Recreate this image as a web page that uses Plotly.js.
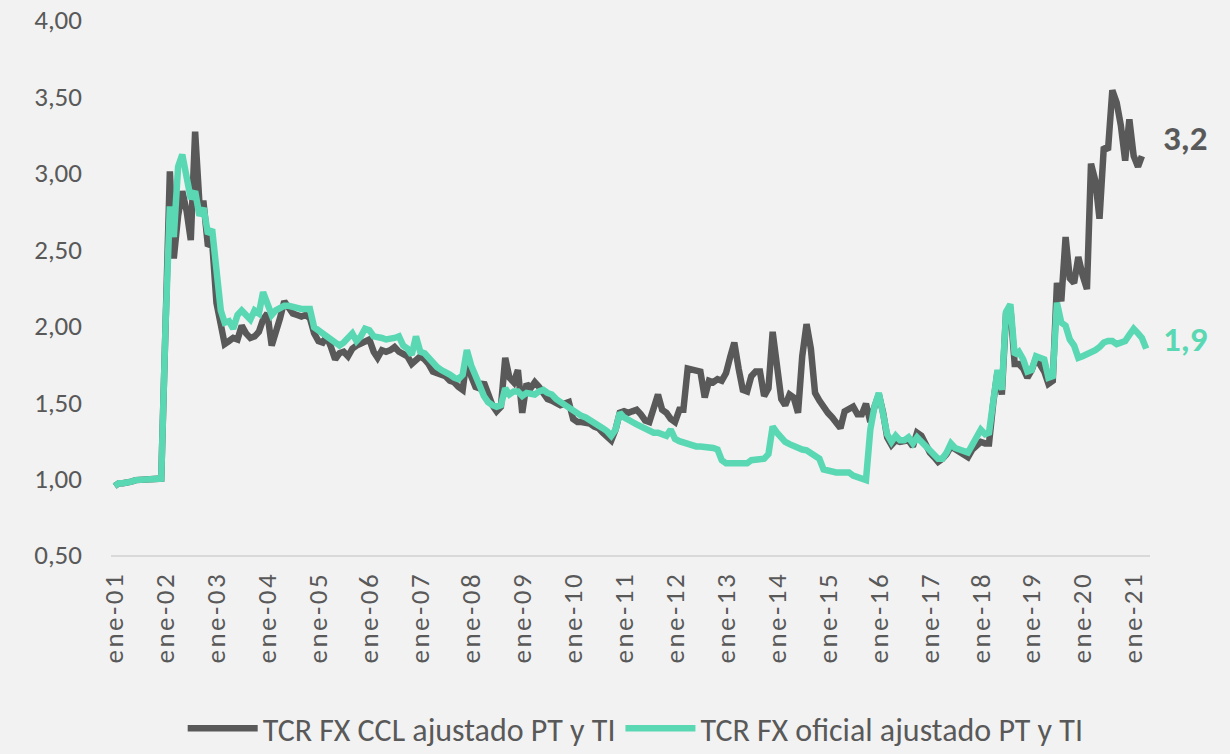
<!DOCTYPE html>
<html>
<head>
<meta charset="utf-8">
<script src="https://cdn.plot.ly/plotly-3.0.1.min.js"></script>
<style>
  html, body { margin: 0; padding: 0; background: #f2f2f2; }
  #chart { width: 1230px; height: 754px; }
  .xtick text { letter-spacing: 2.5px; }
</style>
</head>
<body>
<div id="chart"></div>
<script>
// Monthly series, starting January 2001
const startYear = 2001;

const tcrCCL = [
  0.95, 0.97, 0.97, 0.97, 0.98, 0.99, 0.99, 0.99, 0.99, 0.99, 0.99, 1.00,
  2.00, 3.01, 2.44, 2.72, 2.88, 2.75, 2.56, 3.27, 2.80, 2.80, 2.52, 2.55,
  2.15, 2.00, 1.88, 1.90, 1.92, 1.91, 2.00, 1.95, 1.92, 1.93, 1.96, 2.04,
  2.08, 1.87, 1.95, 2.05, 2.16, 2.11, 2.08, 2.07, 2.06, 2.07, 2.05, 1.95,
  1.90, 1.89, 1.93, 1.86, 1.78, 1.82, 1.83, 1.80, 1.85, 1.87, 1.885, 1.89,
  1.91, 1.83, 1.79, 1.84, 1.83, 1.84, 1.86, 1.83, 1.81, 1.80, 1.75, 1.78,
  1.80, 1.78, 1.75, 1.70, 1.69, 1.68, 1.67, 1.64, 1.63, 1.60, 1.58, 1.79,
  1.67, 1.60, 1.59, 1.63, 1.54, 1.48, 1.44, 1.47, 1.79, 1.66, 1.63, 1.71,
  1.43, 1.62, 1.59, 1.63, 1.60, 1.56, 1.52, 1.51, 1.50, 1.48, 1.49, 1.50,
  1.39, 1.37, 1.37, 1.37, 1.36, 1.34, 1.33, 1.30, 1.27, 1.25, 1.32, 1.43,
  1.44, 1.43, 1.44, 1.45, 1.42, 1.38, 1.37, 1.47, 1.55, 1.45, 1.43, 1.39,
  1.37, 1.45, 1.45, 1.72, 1.71, 1.71, 1.70, 1.53, 1.64, 1.63, 1.65, 1.64,
  1.69, 1.80, 1.89, 1.72, 1.58, 1.57, 1.67, 1.70, 1.70, 1.54, 1.59, 1.96,
  1.73, 1.52, 1.48, 1.55, 1.53, 1.43, 1.80, 2.01, 1.85, 1.56, 1.51, 1.46,
  1.43, 1.40, 1.36, 1.33, 1.44, 1.46, 1.47, 1.42, 1.42, 1.49, 1.37, 1.47,
  1.55, 1.43, 1.27, 1.22, 1.25, 1.24, 1.24, 1.25, 1.21, 1.30, 1.28, 1.22,
  1.17, 1.14, 1.11, 1.13, 1.16, 1.21, 1.19, 1.18, 1.16, 1.14, 1.19, 1.21,
  1.24, 1.23, 1.23, 1.50, 1.70, 1.55, 2.08, 2.12, 1.75, 1.75, 1.72, 1.66,
  1.71, 1.79, 1.75, 1.70, 1.62, 1.64, 2.28, 2.16, 2.58, 2.31, 2.28, 2.45,
  2.33, 2.24, 3.06, 2.95, 2.70, 3.17, 3.15, 3.54, 3.46, 3.31, 3.08, 3.35,
  3.11, 3.04, 3.11
];

const tcrOficial = [
  0.95, 0.97, 0.97, 0.97, 0.98, 0.99, 0.99, 0.99, 0.99, 0.99, 0.99, 1.00,
  2.00, 2.78, 2.58, 3.04, 3.12, 2.98, 2.83, 2.88, 2.72, 2.77, 2.60, 2.63,
  2.37, 2.10, 2.02, 2.03, 1.98, 2.07, 2.10, 2.07, 2.04, 2.10, 2.08, 2.22,
  2.15, 2.07, 2.10, 2.12, 2.13, 2.13, 2.12, 2.12, 2.11, 2.11, 2.11, 1.99,
  1.97, 1.94, 1.92, 1.90, 1.88, 1.87, 1.89, 1.92, 1.95, 1.90, 1.93, 1.98,
  1.97, 1.93, 1.92, 1.92, 1.91, 1.91, 1.92, 1.93, 1.87, 1.85, 1.81, 1.93,
  1.83, 1.82, 1.79, 1.75, 1.73, 1.71, 1.70, 1.68, 1.66, 1.65, 1.68, 1.84,
  1.74, 1.66, 1.61, 1.54, 1.50, 1.48, 1.47, 1.48, 1.59, 1.55, 1.57, 1.57,
  1.54, 1.56, 1.56, 1.55, 1.57, 1.58, 1.56, 1.55, 1.52, 1.50, 1.48, 1.46,
  1.44, 1.42, 1.41, 1.40, 1.385, 1.37, 1.35, 1.33, 1.31, 1.28, 1.32, 1.43,
  1.40, 1.38, 1.37, 1.355, 1.34, 1.32, 1.31, 1.30, 1.30, 1.29, 1.28, 1.32,
  1.26, 1.245, 1.235, 1.22, 1.21, 1.21, 1.21, 1.21, 1.21, 1.20, 1.19, 1.12,
  1.10, 1.10, 1.10, 1.10, 1.10, 1.10, 1.12, 1.12, 1.12, 1.13, 1.16, 1.34,
  1.30, 1.26, 1.24, 1.225, 1.21, 1.20, 1.19, 1.185, 1.17, 1.15, 1.13, 1.06,
  1.05, 1.05, 1.04, 1.04, 1.04, 1.04, 1.02, 1.01, 1.005, 0.99, 1.32, 1.47,
  1.56, 1.44, 1.29, 1.24, 1.28, 1.25, 1.25, 1.27, 1.23, 1.27, 1.24, 1.21,
  1.18, 1.15, 1.13, 1.13, 1.17, 1.23, 1.20, 1.19, 1.18, 1.17, 1.22, 1.27,
  1.32, 1.29, 1.30, 1.51, 1.71, 1.58, 2.09, 2.14, 1.81, 1.83, 1.78, 1.70,
  1.71, 1.80, 1.79, 1.78, 1.66, 1.67, 2.15, 2.02, 2.00, 1.91, 1.87, 1.79,
  1.80, 1.81, 1.82, 1.84, 1.86, 1.89, 1.90, 1.90, 1.88, 1.89, 1.90, 1.94,
  1.98, 1.95, 1.92, 1.85
];

const tickYears = ['01','02','03','04','05','06','07','08','09','10',
                   '11','12','13','14','15','16','17','18','19','20','21'];
const tickLabels = tickYears.map(y => 'ene-' + y);
const tickDates = tickYears.map(y => '20' + y + '-01-01');

const seriesNames = ['TCR FX CCL ajustado PT y TI', 'TCR FX oficial ajustado PT y TI'];
const endLabels = ['3,2', '1,9'];

// month dates
const months = [];
for (let i = 0; i < tcrOficial.length; i++) {
  const yr = startYear + Math.floor(i / 12);
  const mo = (i % 12) + 1;
  months.push(yr + '-' + String(mo).padStart(2, '0') + '-01');
}

const GREY = '#595959';
const GREEN = '#5ad8b3';
const FONT = "Carlito, 'Open Sans', sans-serif";

const traces = [
  {
    x: months.slice(0, tcrCCL.length), y: tcrCCL, name: seriesNames[0],
    type: 'scatter', mode: 'lines',
    line: { color: GREY, width: 6.5 }
  },
  {
    x: months, y: tcrOficial, name: seriesNames[1],
    type: 'scatter', mode: 'lines',
    line: { color: GREEN, width: 6.5 }
  }
];

const layout = {
  width: 1230, height: 754,
  paper_bgcolor: '#f2f2f2', plot_bgcolor: '#f2f2f2',
  margin: { l: 111, r: 80, t: 20, b: 199 },
  separators: ',.',
  showlegend: true,
  font: { family: FONT, color: GREY },
  xaxis: {
    type: 'date', automargin: false,
    range: ['2000-12-06', '2021-04-28'],
    tickmode: 'array', tickvals: tickDates, ticktext: tickLabels,
    tickangle: -90,
    tickfont: { family: FONT, size: 27, color: GREY },
    showgrid: false, zeroline: false,
    showline: true, linecolor: '#d9d9d9', linewidth: 2,
    ticks: '', ticklabelstandoff: 4,
    fixedrange: true
  },
  yaxis: {
    automargin: false,
    range: [0.5, 4.0], tick0: 0.5, dtick: 0.5, tickformat: '.2f',
    tickfont: { family: FONT, size: 27, color: GREY },
    showgrid: false, zeroline: false, showline: false,
    ticks: '', ticklabelstandoff: 28,
    fixedrange: true
  },
  legend: {
    orientation: 'h', xref: 'paper', x: 0.505, xanchor: 'center',
    yref: 'container', y: 0.034, yanchor: 'middle',
    font: { family: FONT, size: 32, color: GREY },
    bgcolor: 'rgba(0,0,0,0)', itemwidth: 70
  },
  annotations: [
    { xref: 'paper', yref: 'y', x: 1.034, y: 3.23, text: '<b>' + endLabels[0] + '</b>',
      showarrow: false, xanchor: 'center', yanchor: 'middle',
      font: { family: FONT, size: 35, color: GREY } },
    { xref: 'paper', yref: 'y', x: 1.034, y: 1.91, text: '<b>' + endLabels[1] + '</b>',
      showarrow: false, xanchor: 'center', yanchor: 'middle',
      font: { family: FONT, size: 35, color: GREEN } }
  ]
};

Plotly.newPlot('chart', traces, layout, { displayModeBar: false, staticPlot: true });
</script>
</body>
</html>
